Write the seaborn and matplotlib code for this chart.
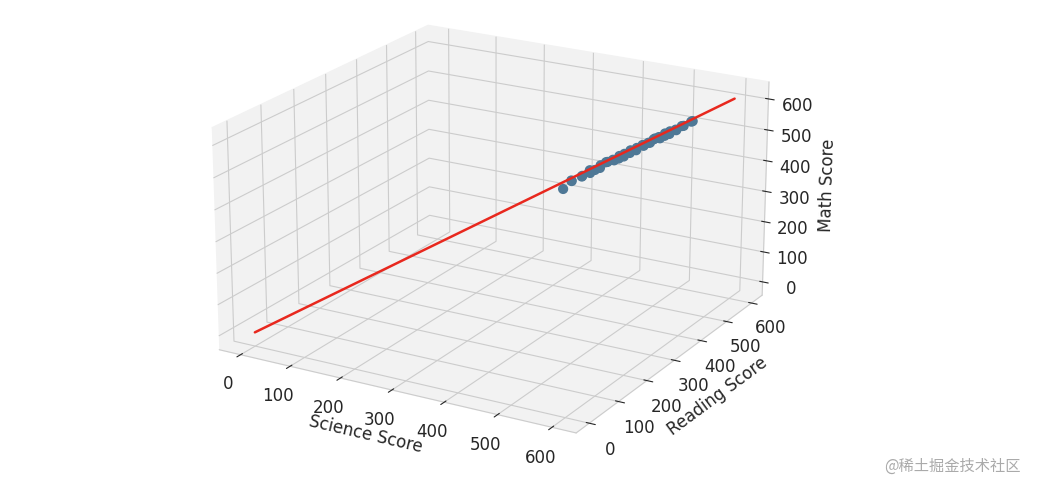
import matplotlib
matplotlib.use("Agg")
import matplotlib.pyplot as plt
import seaborn as sns
import numpy as np

sns.set_style("whitegrid")
plt.rcParams['font.family'] = ['DejaVu Sans', 'Noto Sans CJK SC']

science = [385, 390, 395, 405, 410, 415, 420, 425, 428, 432, 436, 440, 445, 448, 452, 455, 458, 462, 466, 470,
           474, 478, 482, 486, 490, 493, 496, 500, 503, 506, 510, 513, 516, 520, 524, 528, 532, 538, 545, 555]
reading = [380, 400, 392, 410, 402, 420, 412, 420, 435, 425, 445, 432, 452, 442, 458, 450, 465, 455, 472, 462,
           480, 470, 490, 478, 498, 486, 505, 492, 510, 500, 515, 508, 522, 512, 530, 520, 535, 530, 545, 530]
math = [370, 388, 392, 400, 408, 418, 415, 422, 430, 428, 438, 445, 442, 450, 455, 452, 460, 458, 470, 468,
        476, 475, 480, 490, 488, 495, 500, 505, 500, 510, 515, 512, 520, 518, 522, 530, 535, 540, 548, 560]
line_x = [0, 600]
line_y = [0, 600]
line_z = [0, 610]

fig = plt.figure(figsize=(10.52, 4.85), dpi=100)
ax = fig.add_subplot(111, projection='3d')
ax.scatter(science, reading, math, color='#4e7896', s=40, alpha=1)
ax.plot(line_x, line_y, line_z, color='#e8281e', lw=1.8)
ax.set_xlabel('Science Score', fontsize=12)
ax.set_ylabel('Reading Score', fontsize=12)
ax.set_zlabel('Math Score', fontsize=12)
ticks = [0, 100, 200, 300, 400, 500, 600]
ax.set_xticks(ticks); ax.set_yticks(ticks); ax.set_zticks(ticks)
ax.tick_params(labelsize=12)
for a in (ax.xaxis, ax.yaxis, ax.zaxis):
    a.set_pane_color((0.95, 0.95, 0.95, 1))
    a._axinfo['grid']['color'] = (0.8, 0.8, 0.8, 1)
ax.view_init(elev=20, azim=-60)
ax.set_box_aspect((4, 4, 2.3), zoom=1.06)
ax.set_position([-0.065, -0.04, 1.06, 1.16])
fig.text(0.97, 0.03, '@稀土掘金技术社区', ha='right', fontsize=11, color='#aaaaaa',
         family=['Noto Sans CJK SC', 'DejaVu Sans'])
fig.savefig('out.png', dpi=100)
